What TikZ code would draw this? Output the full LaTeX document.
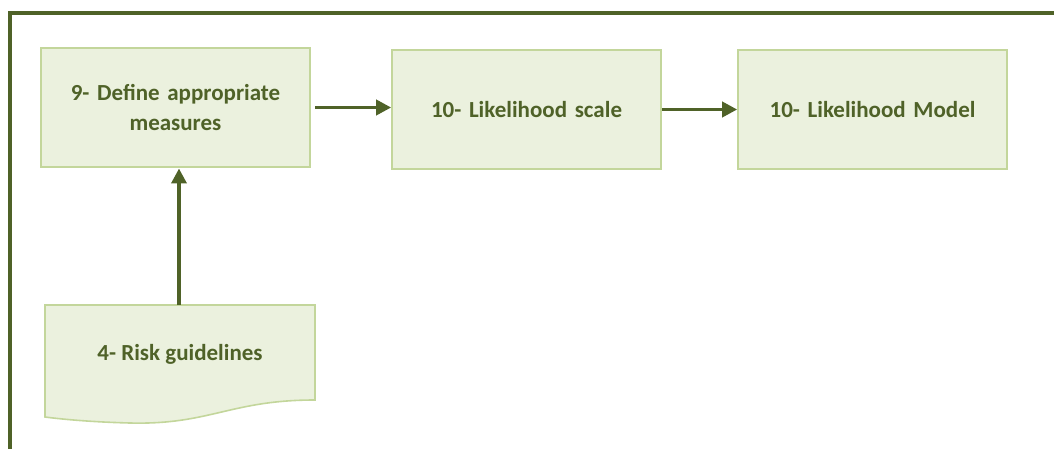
\documentclass[tikz,border=0pt]{standalone}
\usepackage{fontspec}
\setmainfont{Carlito}
\usetikzlibrary{arrows.meta}
\definecolor{boxfill}{HTML}{EBF1DE}
\definecolor{boxline}{HTML}{C3D69B}
\definecolor{darkgreen}{HTML}{4F6228}
\begin{document}
\begin{tikzpicture}[x=1pt,y=-1pt,
  stepbox/.style={draw=boxline,fill=boxfill,line width=1.6pt,minimum width=269pt,minimum height=119pt,
    inner sep=0pt,align=center,text=darkgreen,font=\bfseries\fontsize{23}{30}\selectfont,text width=250pt},
  flow/.style={draw=darkgreen,line width=3.6pt,-{Triangle[length=15pt,width=15pt]}}]
\useasboundingbox (0,0) rectangle (1054,449);
% outer frame, running past the right and bottom edges
\draw[darkgreen,line width=4.5pt] (10,460) -- (10,13) -- (1070,13);
% process boxes
\node[stepbox] (measures) at (175.5,107.5) {9- Define appropriate\\measures};
\node[stepbox] (scale) at (526.5,109.5) {10- Likelihood scale};
\node[stepbox] (model) at (872.5,109.5) {10- Likelihood Model};
% document shape with wavy bottom
\path[draw=boxline,fill=boxfill,line width=1.6pt]
  (45,305) -- (315,305) -- (315,400)
  .. controls (230,400) and (210,425) .. (130,423)
  .. controls (90,422) and (60,419) .. (45,417) -- cycle;
\node[text=darkgreen,font=\bfseries\fontsize{23}{30}\selectfont] (guide) at (180,354) {4- Risk guidelines};
\coordinate (guidetop) at (179,305);
\coordinate (measuresout) at (315,107.5);
\coordinate (scaleout) at (662,109.5);
% connectors
\draw[flow] (measuresout) -- (measuresout -| scale.west);
\draw[flow] (scaleout) -- (model.west);
\draw[flow] (guidetop) -- (179,168.5);
\end{tikzpicture}
\end{document}
